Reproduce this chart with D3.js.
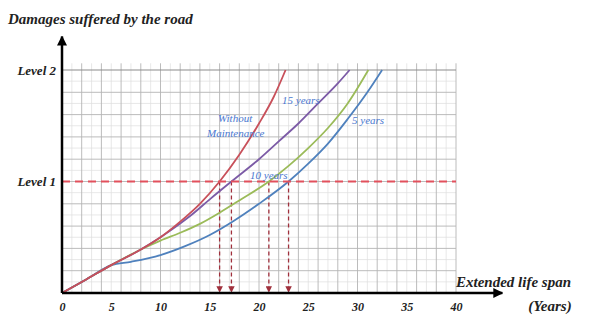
<!DOCTYPE html>
<html>
<head>
<meta charset="utf-8">
<script src="https://cdn.jsdelivr.net/npm/d3@7"></script>
<style>
    body { margin: 0; background: #fff; }
    svg { display: block; }
    text { font-family: "Liberation Serif", "Times New Roman", serif; font-style: italic; }
</style>
</head>
<body>
<svg id="chart" width="600" height="315"></svg>
<script>
// x: extended life span (years), y: damage in grid units (Level 1 = 5, Level 2 = 10)
const yearTicks = [0, 5, 10, 15, 20, 25, 30, 35, 40];
const levelNames = ['Level 1', 'Level 2'];
const levelValues = [5, 10];

const noMaintYears  = [0, 2.5, 5, 8, 10, 12, 14, 16, 18, 20, 21.5, 22.7];
const noMaintDamage = [0, 0.62, 1.25, 1.95, 2.5, 3.2, 4.0, 5.0, 6.2, 7.6, 8.8, 10];

const m15Years  = [0, 2.5, 5, 8, 10, 11, 13, 15, 17.2, 20, 22, 24, 26, 28, 29.2];
const m15Damage = [0, 0.62, 1.25, 1.95, 2.5, 2.8, 3.45, 4.2, 5.0, 6.0, 6.8, 7.6, 8.5, 9.4, 10];

const m10Years  = [0, 2.5, 5, 8, 10, 12, 14, 16, 18, 21, 23, 25, 27, 29, 31.1];
const m10Damage = [0, 0.62, 1.25, 1.95, 2.35, 2.7, 3.1, 3.6, 4.15, 5.0, 5.7, 6.5, 7.4, 8.5, 10];

const m5Years  = [0, 2.5, 5, 7, 10, 12.5, 15, 17.5, 20, 23, 25, 27, 29, 31, 32.5];
const m5Damage = [0, 0.62, 1.25, 1.4, 1.7, 2.1, 2.6, 3.25, 4.0, 5.0, 5.8, 6.7, 7.8, 9.0, 10];

// years where each curve reaches Level 1
const level1Crossings = [16, 17.2, 21, 23];

const svg = d3.select('#chart');

const x = d3.scaleLinear().domain([0, 40]).range([62, 456]);
const y = d3.scaleLinear().domain([0, 10]).range([293, 70]);

// markers
const defs = svg.append('defs');
defs.append('marker')
    .attr('id', 'axis-arrow')
    .attr('viewBox', '0 0 10 10')
    .attr('refX', 9).attr('refY', 5)
    .attr('markerWidth', 4).attr('markerHeight', 4)
    .attr('markerUnits', 'strokeWidth')
    .attr('orient', 'auto')
    .append('path').attr('d', 'M0,0 L10,5 L0,10 z').attr('fill', '#000');
defs.append('marker')
    .attr('id', 'drop-arrow')
    .attr('viewBox', '0 0 10 10')
    .attr('refX', 9).attr('refY', 5)
    .attr('markerWidth', 5).attr('markerHeight', 5)
    .attr('markerUnits', 'strokeWidth')
    .attr('orient', 'auto')
    .append('path').attr('d', 'M0,0 L10,5 L0,10 z').attr('fill', '#a0303c');

// grid
const grid = svg.append('g');
const gridTop = 10.3;
grid.selectAll('.vminor')
    .data(d3.range(1, 41, 2))
    .join('line')
    .attr('x1', d => x(d)).attr('x2', d => x(d))
    .attr('y1', y(0)).attr('y2', y(gridTop))
    .attr('stroke', '#dedede').attr('stroke-width', 0.7);
grid.selectAll('.hminor')
    .data(d3.range(0.5, 10, 1))
    .join('line')
    .attr('x1', x(0)).attr('x2', x(40))
    .attr('y1', d => y(d)).attr('y2', d => y(d))
    .attr('stroke', '#dedede').attr('stroke-width', 0.7);
grid.selectAll('.vmajor')
    .data(d3.range(2, 41, 2))
    .join('line')
    .attr('x1', d => x(d)).attr('x2', d => x(d))
    .attr('y1', y(0)).attr('y2', y(gridTop))
    .attr('stroke', '#b4b4b4').attr('stroke-width', 0.9);
grid.selectAll('.hmajor')
    .data(d3.range(1, 11, 1))
    .join('line')
    .attr('x1', x(0)).attr('x2', x(40))
    .attr('y1', d => y(d)).attr('y2', d => y(d))
    .attr('stroke', d => d === 10 ? '#8c8c8c' : '#b4b4b4')
    .attr('stroke-width', d => d === 10 ? 1.2 : 0.9);

// dashed drops from Level 1 to the x axis
svg.selectAll('.drop')
    .data(level1Crossings)
    .join('line')
    .attr('x1', d => x(d)).attr('x2', d => x(d))
    .attr('y1', y(5)).attr('y2', y(0) - 1)
    .attr('stroke', '#a0303c').attr('stroke-width', 1.3)
    .attr('stroke-dasharray', '4,3')
    .attr('marker-end', 'url(#drop-arrow)');

// curves
const series = [
    { years: m5Years, values: m5Damage, color: '#4f81bd' },
    { years: m10Years, values: m10Damage, color: '#9bbb59' },
    { years: m15Years, values: m15Damage, color: '#7c5ba6' },
    { years: noMaintYears, values: noMaintDamage, color: '#c8505a' }
];
const line = d3.line()
    .x(d => x(d[0]))
    .y(d => y(d[1]))
    .curve(d3.curveMonotoneX);
svg.selectAll('.curve')
    .data(series)
    .join('path')
    .attr('fill', 'none')
    .attr('stroke', d => d.color)
    .attr('stroke-width', 1.8)
    .attr('d', d => line(d3.zip(d.years, d.values)));

// Level 1 threshold
svg.append('line')
    .attr('x1', x(0)).attr('x2', x(40))
    .attr('y1', y(5)).attr('y2', y(5))
    .attr('stroke', '#e2505c').attr('stroke-width', 2)
    .attr('stroke-dasharray', '8,5');

// axes lines with arrows
svg.append('line')
    .attr('x1', x(0)).attr('x2', x(44.7))
    .attr('y1', y(0)).attr('y2', y(0))
    .attr('stroke', '#000').attr('stroke-width', 2.5)
    .attr('marker-end', 'url(#axis-arrow)');
svg.append('line')
    .attr('x1', x(0)).attr('x2', x(0))
    .attr('y1', y(0)).attr('y2', y(11.5))
    .attr('stroke', '#000').attr('stroke-width', 2.5)
    .attr('marker-end', 'url(#axis-arrow)');

// tick labels
const xAxis = svg.append('g')
    .attr('transform', `translate(0,${y(0)})`)
    .call(d3.axisBottom(x).tickValues(yearTicks).tickSize(0).tickPadding(9));
xAxis.select('.domain').remove();
xAxis.selectAll('text')
    .attr('font-family', '"Liberation Serif", serif')
    .attr('font-style', 'italic').attr('font-weight', 'bold')
    .attr('font-size', '12px').attr('fill', '#222');

const yAxis = svg.append('g')
    .attr('transform', `translate(${x(0)},0)`)
    .call(d3.axisLeft(y).tickValues(levelValues)
        .tickFormat((d, i) => levelNames[i]).tickSize(0).tickPadding(6));
yAxis.select('.domain').remove();
yAxis.selectAll('text')
    .attr('font-family', '"Liberation Serif", serif')
    .attr('font-style', 'italic').attr('font-weight', 'bold')
    .attr('font-size', '13px').attr('fill', '#222');

// axis titles
svg.append('text')
    .attr('x', 8).attr('y', 24)
    .attr('font-weight', 'bold').attr('font-size', '15px').attr('fill', '#222')
    .text('Damages suffered by the road');
svg.append('text')
    .attr('x', 456).attr('y', 287)
    .attr('font-weight', 'bold').attr('font-size', '15px').attr('fill', '#222')
    .text('Extended life span');
svg.append('text')
    .attr('x', 550).attr('y', 311)
    .attr('text-anchor', 'middle')
    .attr('font-weight', 'bold').attr('font-size', '15px').attr('fill', '#222')
    .text('(Years)');

// curve labels
const curveLabels = [
    { text: '15 years', x: 282, y: 104 },
    { text: 'Without', x: 218, y: 122 },
    { text: 'Maintenance', x: 207, y: 137 },
    { text: '10 years', x: 250, y: 179 },
    { text: '5 years', x: 352, y: 124 }
];
svg.selectAll('.clabel')
    .data(curveLabels)
    .join('text')
    .attr('x', d => d.x).attr('y', d => d.y)
    .attr('font-size', '11px').attr('fill', '#4a78d0')
    .text(d => d.text);
</script>
</body>
</html>
